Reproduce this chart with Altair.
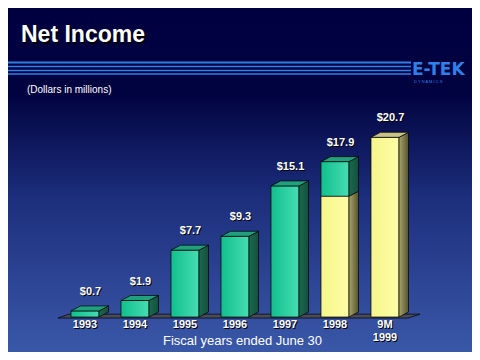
import altair as alt
import pandas as pd

# ---------------- data ----------------
years = ["1993", "1994", "1995", "1996", "1997", "1998", "9M\n1999"]
net_income = [0.7, 1.9, 7.7, 9.3, 15.1, 17.9, 20.7]
value_labels = ["$0.7", "$1.9", "$7.7", "$9.3", "$15.1", "$17.9", "$20.7"]
nine_month = [None, None, None, None, None, 13.9, 20.7]  # nine-month portion (yellow)

title_text = "Net Income"
unit_text = "(Dollars in millions)"
x_title = "Fiscal years ended June 30"
logo_text = "E-TEK"
logo_sub = "D Y N A M I C S"

# ---------------- geometry ----------------
W, H = 464, 344
FONT = "Liberation Sans"
STEP = 50.0          # px between bar centres
X0 = 85 - 8          # px of first bar centre
PXU = 8.68           # px per million
BASE = 317 - 8       # px of baseline
HW = 14 / STEP       # half bar width (units)
DX = 9.5 / STEP      # depth in x (units)
DY = 5 / PXU         # depth in y (units)

xs = alt.Scale(domain=[-X0 / STEP, (W - X0) / STEP], nice=False, zero=False)
ys = alt.Scale(domain=[-(H - BASE) / PXU, BASE / PXU], nice=False, zero=False)

front_rows, side_rows, top_rows = [], [], []
sid = 0
for i, (v, nm) in enumerate(zip(net_income, nine_month)):
    if nm is None:
        segs = [(0, v, "green")]
    elif nm >= v:
        segs = [(0, v, "yellow")]
    else:
        segs = [(0, nm, "yellow"), (nm, v, "green")]
    for (a, b, kind) in segs:
        front_rows.append(dict(x1=i - HW, x2=i + HW, lo=a, hi=b, kind=kind))
        side_rows.append(dict(seg=sid, kind=kind, x=i + HW, lo=a, hi=b))
        side_rows.append(dict(seg=sid, kind=kind, x=i + HW + DX, lo=a + DY, hi=b + DY))
        sid += 1
    top_kind = segs[-1][2]
    top_rows.append(dict(bar=i, kind=top_kind, y=v, xl=i - HW, xr=i + HW))
    top_rows.append(dict(bar=i, kind=top_kind, y=v + DY, xl=i - HW + DX, xr=i + HW + DX))

front = pd.DataFrame(front_rows)
side = pd.DataFrame(side_rows)
top = pd.DataFrame(top_rows)

n = len(years)
floor = pd.DataFrame([
    dict(y=-0.12, xl=-0.54, xr=n - 1 + 0.46, g=0),
    dict(y=-0.12 + 0.45, xl=-0.54 + 0.22, xr=n - 1 + 0.46 + 0.24, g=0),
])

labels = pd.DataFrame(dict(i=list(range(n)), v=net_income, lab=value_labels, yr=years))


def grad(c1, c2, horizontal=True):
    return {"gradient": "linear", "x1": 0, "y1": 0,
            "x2": 1 if horizontal else 0, "y2": 0 if horizontal else 1,
            "stops": [{"offset": 0, "color": c1}, {"offset": 1, "color": c2}]}


one = pd.DataFrame({"a": [0]})

bg = alt.Chart(one).mark_rect(
    fill={"gradient": "linear", "x1": 0, "y1": 0, "x2": 0, "y2": 1,
          "stops": [{"offset": 0, "color": "#000040"},
                    {"offset": 0.25, "color": "#01033f"},
                    {"offset": 0.55, "color": "#1c2e7c"},
                    {"offset": 1, "color": "#3a58a8"}]}
).encode(x=alt.value(0), x2=alt.value(W), y=alt.value(0), y2=alt.value(H))

lines_df = pd.DataFrame(dict(py=[54.5, 58.5, 62.5, 66], w=[2, 1.3, 1.3, 1.3]))
lines = alt.Chart(lines_df).mark_rule(color="#2f80e8").encode(
    x=alt.value(0), x2=alt.value(403),
    y=alt.Y("py:Q", scale=None, axis=None),
    strokeWidth=alt.StrokeWidth("w:Q", scale=None, legend=None))

title_sh = alt.Chart(one).mark_text(text=title_text, font=FONT, fontSize=23, fontWeight="bold",
                                    align="left", baseline="alphabetic", color="black").encode(
    x=alt.value(13 + 1.5), y=alt.value(34 + 1.5))
title = alt.Chart(one).mark_text(text=title_text, font=FONT, fontSize=23, fontWeight="bold",
                                 align="left", baseline="alphabetic", color="white").encode(
    x=alt.value(13), y=alt.value(34))

unit = alt.Chart(one).mark_text(text=unit_text, font=FONT, fontSize=10, align="left",
                                baseline="middle", color="white").encode(
    x=alt.value(19), y=alt.value(82))

logo = alt.Chart(one).mark_text(text=logo_text, font="DejaVu Sans", fontSize=17, fontWeight="bold",
                                align="left", baseline="alphabetic", color="#2f80e8").encode(
    x=alt.value(404), y=alt.value(67))
logo2 = alt.Chart(one).mark_text(text=logo_sub, font=FONT, fontSize=4, align="left",
                                 baseline="top", color="#2f80e8").encode(
    x=alt.value(406), y=alt.value(72))

floor_l = alt.Chart(floor).mark_area(orient="horizontal", fill="#4a4a58", stroke="black",
                                     strokeWidth=0.7).encode(
    y=alt.Y("y:Q", scale=ys, axis=None),
    x=alt.X("xl:Q", scale=xs, axis=None), x2="xr:Q", detail="g:N")

fills = {
    "green": dict(front=grad("#10c08c", "#48dcb4"), side=grad("#1a6a50", "#15503c"), top="#20a07c"),
    "yellow": dict(front=grad("#f6f68c", "#fdfda6"), side=grad("#a8a468", "#55532e"), top="#c8c488"),
}

bar_layers = []
for kind in ["green", "yellow"]:
    f = fills[kind]
    fr = alt.Chart(front[front.kind == kind]).mark_bar(
        fill=f["front"], stroke="black", strokeWidth=0.7).encode(
        x=alt.X("x1:Q", scale=xs, axis=None), x2="x2:Q",
        y=alt.Y("lo:Q", scale=ys, axis=None), y2="hi:Q")
    sd = alt.Chart(side[side.kind == kind]).mark_area(
        fill=f["side"], stroke="black", strokeWidth=0.7).encode(
        x=alt.X("x:Q", scale=xs, axis=None),
        y=alt.Y("lo:Q", scale=ys, axis=None), y2="hi:Q", detail="seg:N")
    tp_d = top[top.kind == kind]
    tp = alt.Chart(tp_d).mark_area(orient="horizontal", fill=f["top"], stroke="black",
                                   strokeWidth=0.7).encode(
        y=alt.Y("y:Q", scale=ys, axis=None),
        x=alt.X("xl:Q", scale=xs, axis=None), x2="xr:Q", detail="bar:N")
    bar_layers += [fr, sd, tp]


def shadowed(chart_fn):
    return [chart_fn("black", 1, 1), chart_fn("white", 0, 0)]


def val_text(col, ox, oy):
    return alt.Chart(labels).mark_text(font=FONT, fontSize=11, fontWeight="bold", align="center",
                                       baseline="middle", color=col, dx=ox, dy=-19 + oy).encode(
        x=alt.X("ix:Q", scale=xs, axis=None), y=alt.Y("v:Q", scale=ys, axis=None),
        text="lab:N").transform_calculate(ix="datum.i + 0.11")


def yr_text(col, ox, oy):
    return alt.Chart(labels).mark_text(font=FONT, fontSize=11, fontWeight="bold", align="center",
                                       baseline="top", color=col, lineBreak="\n", lineHeight=13,
                                       dx=ox, dy=oy).encode(
        x=alt.X("i:Q", scale=xs, axis=None), y=alt.value(311), text="yr:N")


xt = alt.Chart(one).mark_text(text=x_title, font=FONT, fontSize=13, align="center",
                              baseline="middle", color="white").encode(
    x=alt.value(234.5), y=alt.value(333))

chart = alt.layer(
    bg, lines, title_sh, title, unit, logo, logo2, floor_l, *bar_layers,
    *shadowed(val_text), *shadowed(yr_text), xt
).properties(
    width=W, height=H, padding=0, autosize=alt.AutoSizeParams(type="none")
).configure_view(stroke=None)

chart.save("out.html", embed_options={"renderer": "svg", "actions": False})
